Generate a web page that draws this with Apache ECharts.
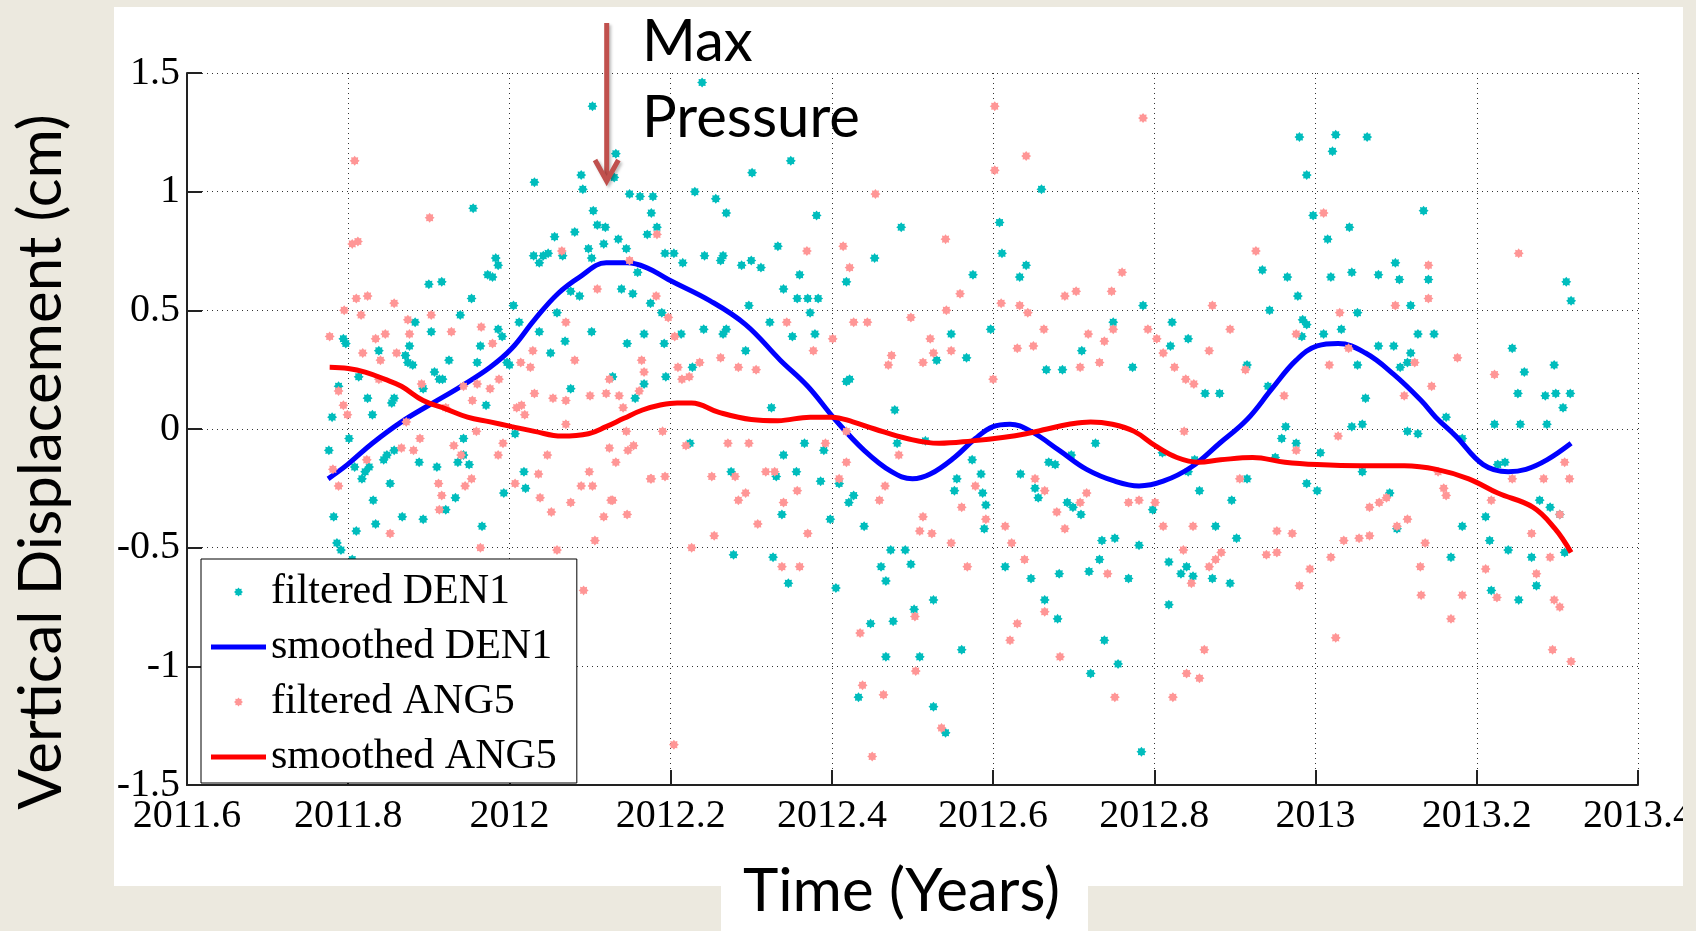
<!DOCTYPE html>
<html>
<head>
<meta charset="utf-8">
<script src="https://cdn.jsdelivr.net/npm/echarts@6/dist/echarts.min.js"></script>
<style>
html,body{margin:0;padding:0;background:#ECE9DF;width:1696px;height:931px;overflow:hidden;}
.panel{position:absolute;background:#fff;}
.edge{position:absolute;background:#ECE9DF;z-index:5;}
#chart{position:absolute;left:0;top:0;width:1696px;height:931px;}
</style>
</head>
<body>
<div class="panel" style="left:114px;top:7px;width:1569px;height:879px"></div>
<div class="panel" style="left:721px;top:886px;width:367px;height:45px"></div>
<div id="chart"></div>
<div class="edge" style="left:1683px;top:0;width:13px;height:931px"></div>
<script>
// ---------------- data (time in decimal years, displacement in cm) ----------------
const seriesNames = ['filtered DEN1', 'smoothed DEN1', 'filtered ANG5', 'smoothed ANG5'];
const xTicks = { min: 2011.6, max: 2013.4, step: 0.2 };
const yTicks = { min: -1.5, max: 1.5, step: 0.5 };
const xTitle = 'Time (Years)';
const yTitle = 'Vertical Displacement (cm)';
const annotation = 'Max\nPressure';

const filteredDEN1 = [
[2012.103,1.36],[2012.132,1.16],[2012.089,1.07],[2012.130,1.06],[2012.031,1.04],[2012.091,1.01],[2012.149,0.99],[2012.162,0.98],[2012.178,0.98],[2011.955,0.93],
[2012.104,0.92],[2012.176,0.91],[2012.109,0.86],[2012.119,0.85],[2012.081,0.83],[2012.183,0.85],[2012.171,0.82],[2012.056,0.81],[2012.135,0.80],[2012.117,0.78],
[2012.098,0.76],[2012.145,0.76],[2012.042,0.73],[2012.030,0.73],[2012.037,0.70],[2012.048,0.74],[2012.066,0.73],[2011.983,0.72],[2011.986,0.69],[2011.973,0.65],
[2011.979,0.64],[2012.102,0.72],[2012.159,0.66],[2012.139,0.59],[2012.153,0.57],[2012.076,0.58],[2012.087,0.56],[2011.900,0.61],[2011.916,0.62],[2011.953,0.55],
[2012.175,0.53],[2012.005,0.52],[2011.939,0.48],[2012.059,0.49],[2012.189,0.49],[2012.012,0.45],[2011.883,0.45],[2011.903,0.41],[2011.986,0.42],[2011.991,0.39],
[2012.037,0.41],[2012.102,0.41],[2012.069,0.37],[2012.146,0.36],[2012.192,0.36],[2011.964,0.35],[2012.051,0.32],[2011.794,0.38],[2011.797,0.36],[2011.838,0.33],
[2011.876,0.35],[2011.871,0.31],[2011.874,0.28],[2011.880,0.27],[2011.925,0.29],[2011.960,0.28],[2011.997,0.28],[2012.000,0.27],[2011.813,0.22],[2011.907,0.24],
[2011.913,0.21],[2011.917,0.21],[2012.128,0.22],[2012.194,0.22],[2012.167,0.19],[2011.788,0.18],[2012.227,0.26],[2011.893,0.17],[2012.076,0.17],[2011.824,0.13],
[2011.857,0.13],[2012.156,0.13],[2011.780,0.05],[2011.830,0.06],[2011.854,0.11],[2011.776,-0.09],[2011.801,-0.04],[2011.808,-0.16],[2011.782,-0.37],[2011.810,-0.43],
[2011.786,-0.48],[2011.791,-0.51],[2011.805,-0.55],[2011.817,-0.21],[2011.821,-0.18],[2011.826,-0.16],[2011.831,-0.30],[2011.834,-0.40],[2011.844,-0.13],[2011.848,-0.11],
[2011.857,-0.09],[2011.852,-0.23],[2011.867,-0.37],[2011.893,-0.38],[2011.888,-0.14],[2011.910,-0.16],[2011.921,-0.34],[2011.933,-0.29],[2011.936,-0.14],[2011.943,-0.11],
[2011.950,-0.15],[2011.966,-0.41],[2011.993,-0.27],[2012.018,-0.18],[2012.020,-0.25],[2012.007,-0.02],[2011.943,-0.04],[2011.971,0.10],[2012.224,-0.06],
[2012.239,1.46],[2012.349,1.13],[2012.301,1.08],[2012.230,1.00],[2012.256,0.97],[2012.269,0.91],[2012.381,0.90],[2012.486,0.85],[2012.333,0.77],[2012.660,1.01],
[2012.608,0.87],[2012.611,0.74],[2012.641,0.69],[2012.633,0.64],[2012.575,0.65],[2012.418,0.62],[2012.453,0.72],[2012.242,0.73],[2012.265,0.73],[2012.262,0.71],
[2012.300,0.71],[2012.288,0.69],[2012.312,0.68],[2012.215,0.70],[2012.204,0.74],[2012.193,0.74],[2012.360,0.65],[2012.340,0.59],[2012.357,0.55],[2012.370,0.55],
[2012.383,0.55],[2012.297,0.52],[2012.373,0.49],[2012.323,0.45],[2012.269,0.42],[2012.265,0.40],[2012.293,0.33],[2012.351,0.39],[2012.379,0.40],[2012.167,0.40],
[2012.213,0.40],[2012.241,0.42],[2012.418,0.20],[2012.422,0.21],[2012.548,0.40],[2012.567,0.30],[2012.530,0.29],[2012.597,0.42],[2012.666,0.25],[2012.686,0.25],
[2012.710,0.33],[2012.749,0.45],[2012.773,0.26],[2012.786,0.52],[2012.822,0.45],[2012.842,0.38],[2012.863,0.15],[2012.881,0.15],[2012.934,0.67],[2012.943,0.50],
[2012.965,0.64],[2012.978,0.56],[2012.984,0.46],[2012.980,1.23],[2013.025,1.24],[2013.064,1.23],[2012.989,1.07],[2013.021,1.17],[2012.997,0.90],[2013.015,0.80],
[2013.042,0.85],[2013.134,0.92],[2013.019,0.64],[2013.045,0.66],[2013.078,0.65],[2013.099,0.70],[2013.104,0.63],[2013.118,0.52],[2013.140,0.63],[2013.032,0.42],
[2013.010,0.40],[2013.052,0.49],[2013.078,0.35],[2013.097,0.35],[2013.118,0.32],[2013.114,0.28],[2013.127,0.40],[2013.147,0.40],[2013.244,0.34],[2013.259,0.24],
[2013.296,0.27],[2013.311,0.62],[2013.317,0.54],[2013.251,0.15],[2013.285,0.14],[2013.298,0.15],[2013.316,0.15],[2013.307,0.09],[2012.915,0.27],[2013.052,0.27],
[2012.941,0.18],[2013.062,0.13],[2013.105,0.26],[2012.983,0.39],[2012.989,0.44],[2012.820,0.35],[2012.478,0.08],
[2012.275,-0.18],[2012.325,0.09],[2012.366,-0.06],[2012.331,-0.20],[2012.356,-0.18],[2012.340,-0.11],[2012.338,-0.36],[2012.278,-0.53],[2012.327,-0.54],
[2012.346,-0.65],[2012.390,-0.09],[2012.386,-0.22],[2012.409,-0.23],[2012.398,-0.38],[2012.405,-0.67],[2012.421,-0.31],[2012.427,-0.28],[2012.440,-0.41],[2012.461,-0.58],
[2012.467,-0.64],[2012.473,-0.51],[2012.491,-0.51],[2012.498,-0.57],[2012.502,-0.76],[2012.526,-0.72],[2012.448,-0.82],[2012.476,-0.81],[2012.467,-0.96],[2012.509,-0.96],
[2012.561,-0.93],[2012.433,-1.13],[2012.526,-1.17],[2012.541,-1.28],[2012.481,-0.06],[2012.516,-0.05],[2012.555,-0.21],[2012.552,-0.26],[2012.587,-0.27],[2012.591,-0.32],
[2012.589,-0.42],[2012.615,-0.58],[2012.634,-0.19],[2012.652,-0.25],[2012.656,-0.29],[2012.669,-0.14],[2012.677,-0.15],[2012.647,-0.63],[2012.664,-0.72],[2012.680,-0.80],
[2012.692,-0.31],[2012.699,-0.33],[2012.709,-0.36],[2012.727,-0.06],[2012.735,-0.47],[2012.751,-0.46],[2012.732,-0.55],[2012.719,-0.60],[2012.682,-0.61],[2012.768,-0.63],
[2012.738,-0.89],[2012.755,-0.99],[2012.721,-1.03],[2012.784,-1.36],[2012.781,-0.49],[2012.798,-0.34],[2012.818,-0.74],[2012.818,-0.56],[2012.833,-0.61],[2012.840,-0.58],
[2012.848,-0.62],[2012.872,-0.63],[2012.894,-0.65],[2012.856,-0.26],[2012.876,-0.41],[2012.902,-0.46],[2012.810,-0.10],[2012.842,-0.18],[2012.963,0.01],[2013.002,-0.26],
[2013.058,-0.18],[2013.092,-0.27],[2013.101,-0.42],[2013.114,-0.01],[2013.127,-0.02],[2013.162,0.05],[2013.182,-0.04],[2013.168,-0.54],[2013.182,-0.41],[2013.211,-0.37],
[2013.216,-0.47],[2013.218,-0.68],[2013.239,-0.51],[2013.252,-0.72],[2013.268,-0.54],[2013.274,-0.66],[2013.278,-0.30],[2013.291,-0.33],[2013.303,-0.36],[2013.254,0.02],
[2013.222,0.02],[2013.287,0.02],[2013.235,-0.14],[2013.309,-0.52],
[2012.585,-0.19],[2012.574,-0.13],[2012.697,-0.11],[2012.896,-0.30],[2012.915,-0.21],[2012.950,-0.12],[2012.958,-0.04],[2012.976,-0.06],[2012.989,-0.23],[2013.006,-0.10],
[2013.045,0.01],[2013.058,0.02],[2012.850,-0.13],[2013.226,-0.15]
];

const smoothedDEN1 = [
[2011.775,-0.21],[2011.799,-0.15],[2011.830,-0.06],[2011.866,0.03],[2011.900,0.10],[2011.940,0.18],[2011.976,0.26],[2012.003,0.34],[2012.031,0.46],[2012.060,0.57],
[2012.087,0.64],[2012.120,0.70],[2012.146,0.70],[2012.170,0.68],[2012.197,0.63],[2012.249,0.54],[2012.293,0.44],[2012.336,0.29],[2012.370,0.18],[2012.404,0.04],
[2012.440,-0.09],[2012.474,-0.18],[2012.500,-0.21],[2012.522,-0.19],[2012.552,-0.12],[2012.578,-0.04],[2012.600,0.01],[2012.621,0.02],[2012.647,-0.01],[2012.682,-0.09],
[2012.716,-0.17],[2012.751,-0.22],[2012.781,-0.24],[2012.811,-0.22],[2012.846,-0.16],[2012.881,-0.06],[2012.915,0.04],[2012.946,0.17],[2012.976,0.29],[2013.002,0.35],
[2013.028,0.36],[2013.062,0.32],[2013.097,0.23],[2013.131,0.12],[2013.149,0.05],[2013.174,-0.03],[2013.208,-0.15],[2013.239,-0.18],[2013.261,-0.17],[2013.287,-0.13],
[2013.317,-0.06]
];

const filteredANG5 = [
[2011.808,1.13],[2011.901,0.89],[2011.805,0.78],[2011.812,0.79],[2012.065,0.75],[2012.149,0.71],[2012.183,0.82],[2012.109,0.59],[2012.182,0.56],[2011.810,0.55],
[2011.824,0.56],[2011.795,0.50],[2011.857,0.53],[2011.816,0.48],[2011.874,0.46],[2011.903,0.48],[2011.777,0.39],[2011.834,0.38],[2011.846,0.40],[2011.876,0.40],
[2011.928,0.41],[2011.965,0.43],[2012.070,0.45],[2011.979,0.36],[2012.205,0.39],[2011.818,0.32],[2011.840,0.29],[2011.860,0.32],[2012.029,0.33],[2012.081,0.29],
[2012.164,0.29],[2012.014,0.28],[2012.026,0.26],[2012.167,0.24],[2012.209,0.26],[2011.788,0.16],[2011.838,0.21],[2011.891,0.19],[2011.943,0.18],[2011.960,0.19],
[2011.976,0.17],[2011.987,0.21],[2012.031,0.15],[2012.100,0.14],[2012.120,0.15],[2012.136,0.14],[2012.161,0.16],[2012.214,0.21],[2012.054,0.13],[2012.070,0.12],
[2011.921,0.09],[2011.954,0.12],[2012.015,0.10],[2011.794,0.10],[2011.799,0.06],
[2011.781,-0.17],[2011.788,-0.24],[2011.823,-0.13],[2011.852,-0.44],[2011.866,-0.08],[2011.881,-0.09],[2011.872,0.03],[2011.889,-0.04],[2011.912,-0.23],[2011.916,-0.28],
[2011.913,-0.34],[2011.931,-0.07],[2011.940,-0.11],[2011.945,-0.24],[2011.953,-0.21],[2011.959,-0.01],[2011.964,-0.50],[2011.986,-0.11],[2011.992,-0.06],[2012.009,0.09],
[2012.019,0.06],[2012.007,-0.23],[2012.036,-0.19],[2012.038,-0.29],[2012.047,-0.11],[2012.052,-0.35],[2012.059,-0.51],[2012.070,0.02],[2012.076,-0.31],[2012.089,-0.24],
[2012.103,-0.24],[2012.099,-0.18],[2012.106,-0.47],[2012.117,-0.37],[2012.126,-0.30],[2012.132,-0.14],[2012.092,-0.68],[2012.141,0.09],[2012.145,-0.01],[2012.154,-0.07],
[2012.146,-0.36],[2012.175,-0.21],[2012.190,-0.01],[2012.193,-0.20],[2012.219,-0.07],[2012.226,-0.50],[2012.204,-1.33],
[2012.602,1.36],[2012.786,1.31],[2012.641,1.15],[2012.602,1.09],[2012.454,0.99],[2013.010,0.91],[2013.252,0.74],[2012.926,0.75],[2013.140,0.69],[2013.140,0.55],
[2013.099,0.52],[2012.541,0.80],[2012.414,0.77],[2012.422,0.68],[2012.760,0.66],[2012.747,0.58],[2012.689,0.56],[2012.703,0.58],[2012.610,0.53],[2012.633,0.52],
[2012.542,0.50],[2012.872,0.52],[2012.369,0.75],[2012.344,0.45],[2012.427,0.45],[2012.444,0.45],[2012.498,0.47],[2012.559,0.57],[2012.643,0.49],[2012.663,0.42],
[2012.718,0.40],[2012.749,0.42],[2012.792,0.42],[2012.803,0.38],[2012.868,0.33],[2012.894,0.42],[2012.976,0.40],[2013.030,0.49],[2013.176,0.30],[2013.222,0.23],
[2012.401,0.38],[2012.377,0.33],[2012.474,0.31],[2012.522,0.38],[2012.526,0.32],[2012.548,0.33],[2012.470,0.27],[2012.513,0.28],[2012.630,0.34],[2012.650,0.35],
[2012.708,0.26],[2012.732,0.28],[2012.738,0.37],[2012.811,0.32],[2012.825,0.26],[2012.839,0.21],[2012.849,0.19],[2012.913,0.25],[2013.017,0.27],[2013.041,0.34],
[2013.123,0.28],[2013.144,0.18],[2013.110,0.14],[2012.961,0.14],[2012.600,0.21],[2012.236,0.28],[2012.262,0.30],[2012.284,0.26],[2012.306,0.25],[2012.124,0.21],
[2012.223,0.22],[2012.197,0.47],
[2012.124,-0.08],[2012.147,-0.09],[2012.128,-0.30],[2012.176,-0.21],[2012.251,-0.20],[2012.254,-0.45],[2012.271,-0.06],[2012.297,-0.06],[2012.280,-0.20],[2012.293,-0.27],
[2012.284,-0.30],[2012.308,-0.40],[2012.318,-0.18],[2012.329,-0.18],[2012.340,-0.31],[2012.357,-0.26],[2012.370,-0.44],[2012.360,-0.58],[2012.338,-0.58],[2012.392,-0.06],
[2012.409,-0.21],[2012.418,-0.14],[2012.435,-0.86],[2012.438,-1.08],[2012.464,-1.12],[2012.450,-1.38],[2012.459,-0.30],[2012.466,-0.24],[2012.503,-0.79],[2012.504,-1.02],
[2012.509,-0.43],[2012.524,-0.44],[2012.513,-0.37],[2012.536,-1.26],[2012.548,-0.48],[2012.561,-0.33],[2012.568,-0.58],[2012.578,-0.24],[2012.591,-0.38],[2012.615,-0.41],
[2012.623,-0.48],[2012.630,-0.82],[2012.621,-0.89],[2012.639,-0.55],[2012.664,-0.77],[2012.679,-0.35],[2012.689,-0.42],[2012.683,-0.96],[2012.742,-0.61],[2012.751,-1.13],
[2012.768,-0.31],[2012.781,-0.30],[2012.811,-0.41],[2012.823,-1.13],[2012.836,-0.51],[2012.840,-1.03],[2012.856,-1.05],[2012.846,-0.65],[2012.848,-0.41],[2012.862,-0.93],
[2012.868,-0.58],[2012.876,-0.55],[2012.883,-0.52],[2012.939,-0.53],[2012.952,-0.52],[2012.952,-0.43],[2012.971,-0.44],[2012.980,-0.66],[2012.993,-0.59],[2013.019,-0.54],
[2013.025,-0.88],[2013.035,-0.47],[2013.054,-0.46],[2013.067,-0.45],[2013.067,-0.33],[2013.079,-0.31],[2013.088,-0.29],[2013.101,-0.41],[2013.114,-0.38],[2013.130,-0.58],
[2013.136,-0.48],[2013.131,-0.70],[2013.168,-0.80],[2013.182,-0.70],[2013.211,-0.59],[2013.225,-0.71],[2013.218,-0.30],[2013.244,-0.21],[2013.268,-0.44],[2013.274,-0.61],
[2013.291,-0.54],[2013.296,-0.72],[2013.303,-0.75],[2013.294,-0.93],[2013.317,-0.98],[2013.309,-0.14],[2013.315,-0.21],[2013.303,-0.36],
[2012.483,-0.11],[2012.652,-0.21],[2012.664,-0.26],[2012.708,-0.31],[2012.716,-0.27],[2012.801,-0.31],[2012.906,-0.21],[2013.159,-0.25],[2013.162,-0.28],[2013.283,-0.21],
[2012.418,-0.01],[2012.837,-0.01],[2012.976,-0.09],[2013.028,-0.03],[2013.152,-0.18]
];

const smoothedANG5 = [
[2011.777,0.26],[2011.800,0.255],[2011.821,0.24],[2011.845,0.21],[2011.866,0.18],[2011.893,0.12],[2011.921,0.085],[2011.948,0.05],[2011.976,0.03],[2012.003,0.01],
[2012.031,-0.01],[2012.065,-0.03],[2012.098,-0.02],[2012.120,0.01],[2012.142,0.045],[2012.165,0.08],[2012.186,0.10],[2012.208,0.11],[2012.226,0.11],[2012.260,0.07],
[2012.300,0.04],[2012.333,0.035],[2012.373,0.05],[2012.400,0.05],[2012.426,0.03],[2012.453,0.00],[2012.493,-0.04],[2012.533,-0.06],[2012.574,-0.05],[2012.614,-0.035],
[2012.641,-0.02],[2012.667,0.00],[2012.694,0.02],[2012.721,0.03],[2012.748,0.02],[2012.775,-0.01],[2012.801,-0.07],[2012.828,-0.12],[2012.855,-0.14],[2012.882,-0.13],
[2012.922,-0.12],[2012.962,-0.14],[2013.002,-0.15],[2013.056,-0.155],[2013.110,-0.155],[2013.150,-0.17],[2013.190,-0.21],[2013.226,-0.27],[2013.270,-0.33],[2013.297,-0.42],
[2013.317,-0.52]
];

// ---------------- styling ----------------
const SERIF = '"Liberation Serif", "Times New Roman", serif';
const SANS = 'Lato, "Open Sans", sans-serif';
const STAR = 'path://M20,10L16.47,12.68L17.07,17.07L12.68,16.47L10,20L7.32,16.47L2.93,17.07L3.53,12.68L0,10L3.53,7.32L2.93,2.93L7.32,3.53L10,0L12.68,3.53L17.07,2.93L16.47,7.32Z';
const LINE_ICON = 'path://M0,0H110V10H0Z';
const fmt = v => String(parseFloat(Number(v).toFixed(2)));

const chart = echarts.init(document.getElementById('chart'), null, { renderer: 'canvas' });

const axisCommon = {
  type: 'value',
  axisLine: { show: true, onZero: false, lineStyle: { color: '#222', width: 2 } },
  axisTick: { show: true, inside: true, length: 15, lineStyle: { color: '#222', width: 2 } },
  splitLine: { show: true, lineStyle: { color: '#333', width: 1, type: [1, 4] } },
  axisLabel: { fontFamily: SERIF, fontSize: 40, color: '#000', formatter: fmt, hideOverlap: false, showMinLabel: true, showMaxLabel: true }
};

const option = {
  backgroundColor: 'transparent',
  animation: false,
  grid: { left: 187, right: 55, top: 73, bottom: 146, containLabel: false },
  xAxis: Object.assign({}, axisCommon, {
    min: xTicks.min, max: xTicks.max, interval: xTicks.step,
    name: xTitle, nameLocation: 'middle', nameGap: 77,
    nameTextStyle: { fontFamily: SANS, fontSize: 60, color: '#000', lineHeight: 60, padding: [0, 22, 0, 0] },
    axisLabel: Object.assign({}, axisCommon.axisLabel, { margin: 11 })
  }),
  yAxis: Object.assign({}, axisCommon, {
    min: yTicks.min, max: yTicks.max, interval: yTicks.step,
    name: yTitle, nameLocation: 'middle', nameRotate: 90, nameGap: 115,
    nameTextStyle: { fontFamily: SANS, fontSize: 60, color: '#000', lineHeight: 60, padding: [0, 66, 0, 0] },
    axisLabel: Object.assign({}, axisCommon.axisLabel, { margin: 7 })
  }),
  legend: {
    orient: 'vertical', left: 201, top: 559, z: 10,
    padding: [10, 20, 3, 10], itemGap: 9, itemWidth: 55, itemHeight: 9,
    backgroundColor: '#fff', borderColor: '#000', borderWidth: 1, borderRadius: 0,
    selectedMode: false,
    textStyle: { fontFamily: SERIF, fontSize: 42, color: '#000', lineHeight: 46 },
    data: [
      { name: seriesNames[0] },
      { name: seriesNames[1], icon: LINE_ICON },
      { name: seriesNames[2] },
      { name: seriesNames[3], icon: LINE_ICON }
    ]
  },
  graphic: [
    { type: 'line', z: 20, shape: { x1: 606.7, y1: 23, x2: 606.7, y2: 177 },
      style: { stroke: '#C0504D', lineWidth: 5, shadowBlur: 3, shadowColor: 'rgba(0,0,0,0.25)', shadowOffsetX: 2, shadowOffsetY: 2 } },
    { type: 'polyline', z: 20, shape: { points: [[595, 160], [606.7, 181], [618.4, 160]] },
      style: { stroke: '#C0504D', fill: null, lineWidth: 5, lineJoin: 'miter', shadowBlur: 3, shadowColor: 'rgba(0,0,0,0.25)', shadowOffsetX: 2, shadowOffsetY: 2 } },
    { type: 'text', z: 20, x: 642, y: 4,
      style: { text: annotation, fontFamily: SANS, fontSize: 58, lineHeight: 76, fill: '#000', textAlign: 'left', textVerticalAlign: 'top' } }
  ],
  series: [
    { name: seriesNames[0], type: 'scatter', data: filteredDEN1, symbol: STAR, symbolSize: 10, z: 2,
      itemStyle: { color: '#00BDBD', opacity: 1 } },
    { name: seriesNames[1], type: 'line', data: smoothedDEN1, showSymbol: false, symbol: 'none', smooth: 0.4, z: 3,
      lineStyle: { color: '#0000FF', width: 5 }, itemStyle: { color: '#0000FF' } },
    { name: seriesNames[2], type: 'scatter', data: filteredANG5, symbol: STAR, symbolSize: 10, z: 4,
      itemStyle: { color: '#FF9696', opacity: 1 } },
    { name: seriesNames[3], type: 'line', data: smoothedANG5, showSymbol: false, symbol: 'none', smooth: 0.4, z: 5,
      lineStyle: { color: '#FF0000', width: 5 }, itemStyle: { color: '#FF0000' } }
  ]
};
chart.setOption(option);
</script>
</body>
</html>
